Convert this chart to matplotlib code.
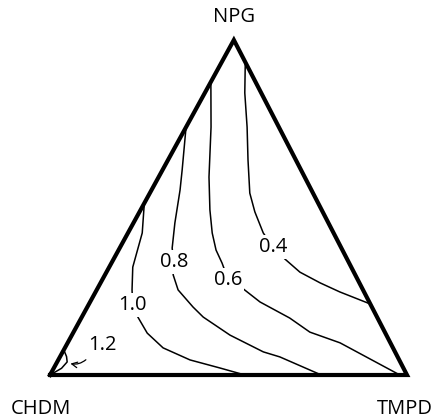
import matplotlib.pyplot as plt

plt.rcParams['font.family'] = ['Open Sans', 'DejaVu Sans']

# ternary composition along each contour: NPG fraction and TMPD fraction (rest is CHDM)
npg_04 = [0.934, 0.842, 0.74, 0.642, 0.543, 0.487, 0.424, 0.382, 0.346, 0.307, 0.275, 0.248, 0.212]
tmpd_04 = [0.066, 0.112, 0.171, 0.224, 0.28, 0.323, 0.379, 0.428, 0.48, 0.542, 0.615, 0.684, 0.788]

npg_06 = [0.875, 0.74, 0.591, 0.493, 0.424, 0.373, 0.334, 0.284, 0.26, 0.218, 0.17, 0.128, 0.096, 0.0]
tmpd_06 = [0.0, 0.07, 0.141, 0.194, 0.236, 0.273, 0.31, 0.353, 0.404, 0.476, 0.584, 0.662, 0.763, 0.98]

npg_08 = [0.74, 0.612, 0.552, 0.454, 0.379, 0.337, 0.299, 0.254, 0.203, 0.173, 0.119, 0.069, 0.054, 0.0]
tmpd_08 = [0.0, 0.055, 0.08, 0.116, 0.147, 0.173, 0.191, 0.228, 0.296, 0.34, 0.443, 0.562, 0.616, 0.76]

npg_10 = [0.513, 0.424, 0.322, 0.254, 0.209, 0.173, 0.125, 0.081, 0.045, 0.021, 0.0]
tmpd_10 = [0.0, 0.04, 0.066, 0.099, 0.124, 0.157, 0.208, 0.275, 0.369, 0.465, 0.546]

npg_12 = [0.075, 0.055, 0.039, 0.02, 0.0]
tmpd_12 = [0.0, 0.018, 0.028, 0.022, 0.0]

labels = ['0.4', '0.6', '0.8', '1.0']
label_npg = [0.382, 0.284, 0.337, 0.209]
label_tmpd = [0.428, 0.353, 0.173, 0.124]

apex = 0.515  # horizontal position of NPG apex


def tern(npg, tmpd):
    x = [t + n * apex for n, t in zip(npg, tmpd)]
    return x, list(npg)


fig = plt.figure(figsize=(4.33, 4.18), dpi=100)
ax = fig.add_axes([50 / 433, 43 / 418, 357 / 433, 335 / 418])
ax.set_xlim(0, 1)
ax.set_ylim(0, 1)
ax.axis('off')

for n, t in [(npg_04, tmpd_04), (npg_06, tmpd_06), (npg_08, tmpd_08),
             (npg_10, tmpd_10), (npg_12, tmpd_12)]:
    x, y = tern(n, t)
    ax.plot(x, y, color='black', lw=1.1, clip_on=False, solid_joinstyle='round')

# triangle outline
ax.plot([0, 1, apex, 0], [0, 0, 1, 0], color='black', lw=3, clip_on=False,
        solid_joinstyle='miter')

lx, ly = tern(label_npg, label_tmpd)
for s, x, y in zip(labels, lx, ly):
    ax.text(x, y, s, ha='center', va='center', fontsize=14.5,
            bbox=dict(facecolor='white', edgecolor='none', pad=1.5))

hx, hy = tern([0.036], [0.031])
tx, ty = tern([0.051], [0.08])
ax.annotate('', xy=(hx[0], hy[0]), xytext=(tx[0], ty[0]),
            arrowprops=dict(arrowstyle='->', color='black', lw=0.9,
                            connectionstyle='arc3,rad=-0.3'))
px, py = tern([0.09], [0.1])
ax.text(px[0], py[0], '1.2', ha='center', va='center', fontsize=14.5)

ax.text(apex, 1.04, 'NPG', ha='center', va='bottom', fontsize=14.5)
ax.text(-0.025, -0.072, 'CHDM', ha='center', va='top', fontsize=14.5)
ax.text(0.994, -0.072, 'TMPD', ha='center', va='top', fontsize=14.5)

fig.savefig('out.png', dpi=100)
